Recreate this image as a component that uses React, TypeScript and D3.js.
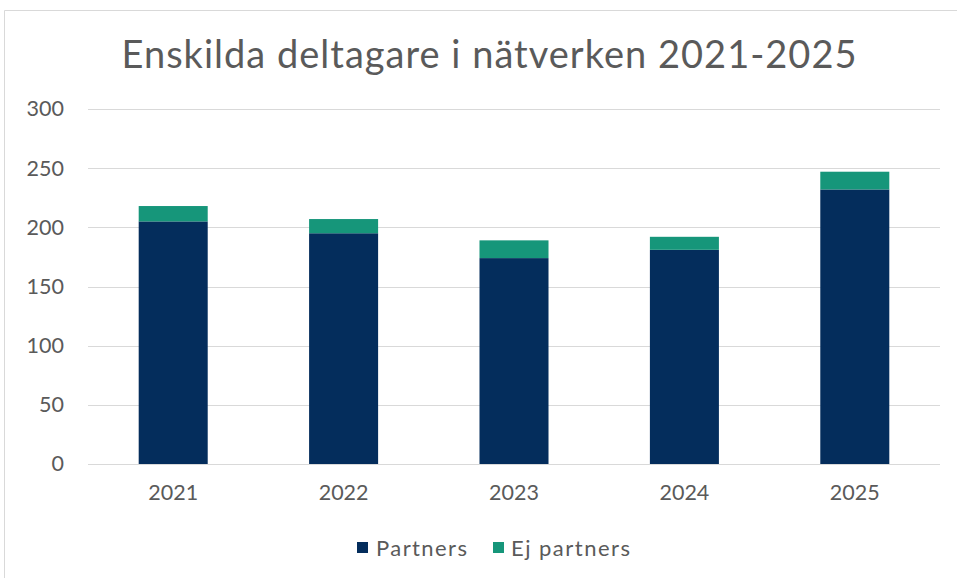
import { useEffect, useRef } from 'react';
import { select, scaleBand, scaleLinear, stack, axisLeft, axisBottom } from 'd3';

const years = ['2021', '2022', '2023', '2024', '2025'];
const partners = [205, 195, 174, 181, 232];
const ejPartners = [13, 12, 15, 11, 15];
const yTicks = [0, 50, 100, 150, 200, 250, 300];
const seriesNames = ['Partners', 'Ej partners'];
const colors = ['#042d5c', '#16967a'];

const W = 957;
const H = 578;
const FONT = 'Lato, "Noto Sans", sans-serif';
const TEXT = '#5a5a5a';

export default function App() {
  const svgRef = useRef<SVGSVGElement>(null);

  useEffect(() => {
    const svg = select(svgRef.current);
    svg.selectAll('*').remove();

    const left = 88;
    const right = 940;
    const top = 109;
    const bottom = 464;

    const x = scaleBand().domain(years).range([left, right]).paddingInner(0.595).paddingOuter(0.2975);
    const y = scaleLinear().domain([0, 300]).range([bottom, top]);

    // ram runt diagrammet
    svg.append('path')
      .attr('d', `M4.5,${H} V10.5 H${W}`)
      .attr('fill', 'none')
      .attr('stroke', '#d9d9d9')
      .attr('stroke-width', 1);

    // titel
    svg.append('text')
      .attr('x', 489)
      .attr('y', 68)
      .attr('text-anchor', 'middle')
      .attr('font-family', FONT)
      .attr('font-size', 38)
      .attr('fill', TEXT)
      .attr('textLength', 735)
      .text('Enskilda deltagare i nätverken 2021-2025');

    // stödlinjer
    svg.append('g')
      .selectAll('line')
      .data(yTicks.slice(1))
      .join('line')
      .attr('x1', left)
      .attr('x2', right)
      .attr('y1', (d) => Math.round(y(d)) + 0.5)
      .attr('y2', (d) => Math.round(y(d)) + 0.5)
      .attr('stroke', '#d9d9d9')
      .attr('stroke-width', 1);

    // y-axel
    const yAxis = axisLeft(y).tickValues(yTicks).tickSize(0).tickPadding(24);
    const gy = svg.append('g').attr('transform', `translate(${left},0)`).call(yAxis);
    gy.select('.domain').remove();
    gy.selectAll('text')
      .attr('font-family', FONT)
      .attr('font-size', 21.5)
      .attr('fill', TEXT);

    // staplade staplar
    const rows = years.map((yr, i) => ({ year: yr, Partners: partners[i], 'Ej partners': ejPartners[i] }));
    const layers = stack<any>().keys(seriesNames)(rows);

    svg.append('g')
      .selectAll('g')
      .data(layers)
      .join('g')
      .attr('fill', (_, i) => colors[i])
      .selectAll('rect')
      .data((d) => d)
      .join('rect')
      .attr('x', (d: any) => x(d.data.year)!)
      .attr('width', x.bandwidth())
      .attr('y', (d) => y(d[1]))
      .attr('height', (d) => y(d[0]) - y(d[1]));

    // x-axel
    const xAxis = axisBottom(x).tickSize(0).tickPadding(21);
    const gx = svg.append('g').attr('transform', `translate(0,${bottom})`).call(xAxis);
    gx.select('.domain')
      .attr('d', `M${left},0.5H${right}`)
      .attr('stroke', '#d9d9d9');
    gx.selectAll('text')
      .attr('font-family', FONT)
      .attr('font-size', 21.5)
      .attr('fill', TEXT);

    // förklaring
    const legendItems = [
      { name: 'Partners', sx: 357, tx: 376, len: 91 },
      { name: 'Ej partners', sx: 493, tx: 511, len: 119 },
    ];
    const lg = svg.append('g');
    legendItems.forEach((it, i) => {
      lg.append('rect')
        .attr('x', it.sx)
        .attr('y', 542)
        .attr('width', 11)
        .attr('height', 11)
        .attr('fill', colors[i]);
      lg.append('text')
        .attr('x', it.tx)
        .attr('y', 556)
        .attr('font-family', FONT)
        .attr('font-size', 22)
        .attr('fill', TEXT)
        .attr('textLength', it.len)
        .text(it.name);
    });
  }, []);

  return (
    <svg
      ref={svgRef}
      width={W}
      height={H}
      style={{ position: 'absolute', left: 0, top: 0, background: '#fff' }}
    />
  );
}
